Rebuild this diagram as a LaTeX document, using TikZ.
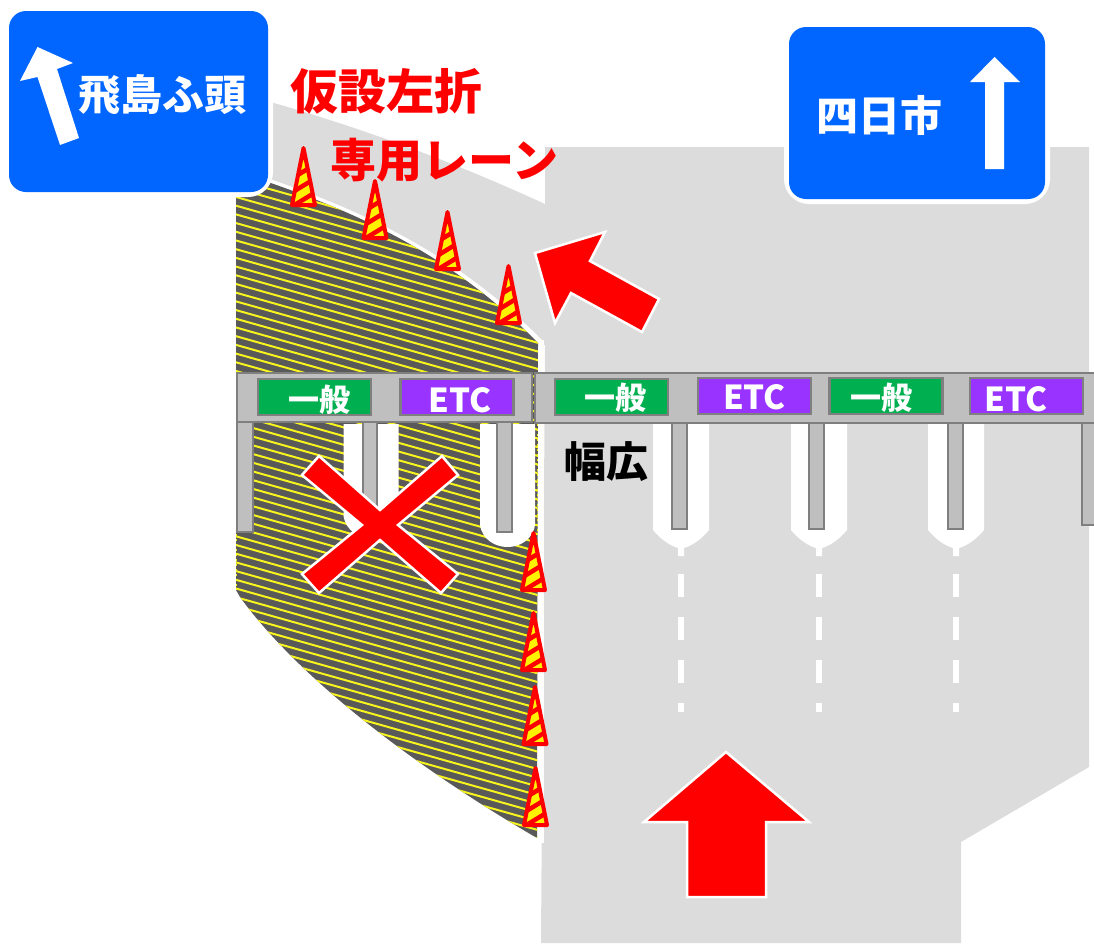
\documentclass[tikz,border=0pt]{standalone}
\usepackage{fontspec}
\setmainfont{Noto Sans CJK JP}
\definecolor{roadgray}{HTML}{DCDCDC}
\definecolor{hatchgray}{HTML}{595959}
\definecolor{hatchyellow}{HTML}{F8F41E}
\definecolor{signblue}{HTML}{0066FF}
\definecolor{beamgray}{HTML}{BFBFBF}
\definecolor{beamline}{HTML}{7F7F7F}
\definecolor{lanegreen}{HTML}{00B050}
\definecolor{lanepurple}{HTML}{9933FF}
\tikzset{
	beam/.style={fill=beamgray, draw=beamline, line width=2.5},
	signplate/.style={fill=signblue, draw=white, line width=10, rounded corners=20},
	redmark/.style={fill=red, draw=white, line width=2.5, line join=miter},
	lanebox/.style={draw=beamline, line width=2.5, minimum width=113, minimum height=36, inner sep=0},
	lanetext/.style={text=white, font=\bfseries\fontsize{31}{31}\selectfont},
	etctext/.style={text=white, font=\bfseries\fontsize{33}{33}\selectfont},
	signtext/.style={text=white, font=\bfseries\fontsize{42}{42}\selectfont},
	redtext/.style={text=red, font=\bfseries\fontsize{48}{48}\selectfont, inner sep=0},
	cone/.pic={
		\begin{scope}
			\clip (-11.5,0) -- (0,-57) -- (11.5,0) -- cycle;
			\fill[yellow] (-13,2) rectangle (13,-59);
			\foreach \s in {3,-11,-25,-39,-53}
				\draw[red, line width=4.5] (-14,\s) -- ++(28,-17);
		\end{scope}
		\draw[red, line width=4, line join=round] (-11.5,0) -- (0,-57) -- (11.5,0) -- cycle;
	}
}
\begin{document}
\begin{tikzpicture}[x=1pt, y=-1pt]
	\useasboundingbox (0,0) rectangle (1094,943);
	\fill[roadgray] (260,99) .. controls (370,130) and (460,165) .. (545,204) -- (545,147) -- (1089,147) -- (1089,767) -- (961,842) -- (961,943) -- (541,943) -- (545,345) -- (262,260) -- cycle;
	\fill[white] (537,340) rectangle (544,843);
	\draw[white, line width=7] (262,180) .. controls (350,210) and (450,252) .. (540,343);
	\begin{scope}
		\clip (236,170) -- (262,180) .. controls (350,210) and (450,252) .. (538,343) -- (537,838) .. controls (420,770) and (300,680) .. (240,597) -- (236,590) -- cycle;
		\fill[hatchgray] (230,165) rectangle (545,845);
		\foreach \h in {0,...,95}
			\draw[hatchyellow, line width=2] (230,{30+\h*8.7}) -- ++(320,90);
	\end{scope}
	% islands round the pillars
	\foreach \x/\b in {371/538, 507.5/547}
		\fill[white] (\x-27.5,424) -- (\x-27.5,\b-22) .. controls (\x-25,\b-7) and (\x-12,\b) .. (\x,\b) .. controls (\x+12,\b) and (\x+25,\b-7) .. (\x+27.5,\b-22) -- (\x+27.5,424) -- cycle;
	\draw[hatchyellow, line width=1, dash pattern=on 2 off 3] (236,424) -- (236,590);
	\draw[hatchyellow, line width=1, dash pattern=on 2 off 3] (537,424) -- (537,535);
	\foreach \x in {681,819,956} {
		\fill[white] (\x-28,424) -- (\x-28,530) .. controls (\x-20,540) and (\x-10,546) .. (\x-3,548) -- (\x-3,556) -- (\x+3,556) -- (\x+3,548) .. controls (\x+10,546) and (\x+20,540) .. (\x+28,530) -- (\x+28,424) -- cycle;
		\draw[white, line width=6, dash pattern=on 23 off 20] (\x,574) -- (\x,712);
	}
	% pillars and beams
	\foreach \x/\w/\b in {237/16/532, 363/14/532, 497/15/532, 672/15/529, 809/15/529, 948/15/529, 1082/14/525}
		\draw[beam] (\x,420) rectangle (\x+\w,\b);
	\draw[beam] (237,373) rectangle (532,422);
	\draw[beam] (535,373) rectangle (1096,423);
	\begin{scope}[every node/.append style={lanebox}]
		\node[fill=lanegreen] (gate1) at (314.5,397) {};
		\node[fill=lanepurple] (gate2) at (457,397) {};
		\node[fill=lanegreen] (gate3) at (611.5,397) {};
		\node[fill=lanepurple] (gate4) at (754.5,396) {};
		\node[fill=lanegreen] (gate5) at (886,396) {};
		\node[fill=lanepurple] (gate6) at (1026.5,396) {};
	\end{scope}
	\node[lanetext] (label1) at (319.5,400) {一般};
	\node[etctext] (label2) at (460,400) {ETC};
	\node[lanetext] (label3) at (615.5,398) {一般};
	\node[etctext] (label4) at (754.5,397) {ETC};
	\node[lanetext] (label5) at (881.5,398) {一般};
	\node[etctext] (label6) at (1016,399) {ETC};
	% hatched lane is shut
	\draw[redmark] (319,456) -- (380,510) -- (442,456) -- (458,475) -- (398,525) -- (458,574) -- (441,593) -- (380,540) -- (319,593) -- (302,574) -- (362,525) -- (302,475) -- cycle;
	\draw[redmark] (535,253) -- (605,232) -- (590,261) -- (659,299) -- (642,332) -- (571,293) -- (555,323) -- cycle;
	\draw[redmark] (726,752) -- (809,822) -- (766,822) -- (766,897) -- (687,897) -- (687,822) -- (644,822) -- cycle;
	\foreach \x/\y in {303.5/205, 375/238, 447.5/269, 508.5/323, 533.5/590, 533.5/670, 535/744, 535.5/825}
		\pic (cone\y) at (\x,\y) {cone};
	% signs
	\draw[signplate] (9,11) rectangle (268,192);
	\fill[signblue, rounded corners=17] (9,11) rectangle (268,192);
	\fill[white] (37.5,47) -- (73,63) -- (57,69) -- (79,138) -- (60,145) -- (37.5,77) -- (20,81) -- cycle;
	\node[signtext] (aska) at (162.5,95) {飛島ふ頭};
	\draw[signplate] (789,27) rectangle (1045,199);
	\fill[signblue, rounded corners=17] (789,27) rectangle (1045,199);
	\fill[white] (994.5,57) -- (1020,82) -- (1004,82) -- (1004,169) -- (985,169) -- (985,82) -- (970,82) -- cycle;
	\node[signtext] (yokka) at (879.5,115) {四日市};
	\node[redtext] (title1) at (386.5,91) {仮設左折};
	\node[redtext, font=\bfseries\fontsize{46}{46}\selectfont] (title2) at (444.5,160) {専用レーン};
	\node[text=black, font=\bfseries\fontsize{42}{42}\selectfont, inner sep=0] (wide) at (606,462) {幅広};
\end{tikzpicture}
\end{document}
